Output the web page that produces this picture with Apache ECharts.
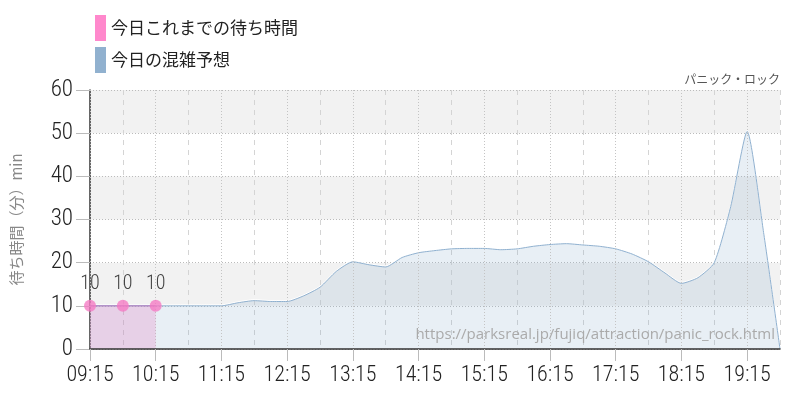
<!DOCTYPE html>
<html lang="ja">
<head>
    <meta charset="UTF-8">
    <title>パニック・ロック 待ち時間</title>
    <style>
        body { margin: 0; background: #fff; }
        #chart { width: 800px; height: 400px; }
    </style>
    <script src="https://cdn.jsdelivr.net/npm/echarts@6/dist/echarts.min.js"></script>
</head>
<body>
    <div id="chart"></div>
    <script>
        // 15分刻みの時刻
        const times = [
            '09:15', '09:30', '09:45', '10:00', '10:15', '10:30', '10:45', '11:00',
            '11:15', '11:30', '11:45', '12:00', '12:15', '12:30', '12:45', '13:00',
            '13:15', '13:30', '13:45', '14:00', '14:15', '14:30', '14:45', '15:00',
            '15:15', '15:30', '15:45', '16:00', '16:15', '16:30', '16:45', '17:00',
            '17:15', '17:30', '17:45', '18:00', '18:15', '18:30', '18:45', '19:00',
            '19:15', '19:30', '19:45'
        ];
        // 今日これまでの待ち時間（30分ごとの実績）
        const actual = [10, null, 10, null, 10];
        // 今日の混雑予想
        const forecast = [
            10, 10, 10, 10, 10, 10, 10, 10,
            10, 10.7, 11.2, 11, 11, 12.3, 14.3, 18,
            20.2, 19.5, 19, 21.2, 22.3, 22.8, 23.2, 23.3,
            23.3, 23, 23.2, 23.8, 24.2, 24.4, 24.1, 23.8,
            23.2, 22, 20.2, 17.6, 15.2, 16.5, 20, 33,
            50.4, 27, 0
        ];
        const yTicks = [0, 10, 20, 30, 40, 50, 60];

        const numFont = "'Roboto Condensed', 'Liberation Sans Narrow', Roboto, sans-serif";
        const jpFont = "'Noto Sans CJK JP', sans-serif";

        const chart = echarts.init(document.getElementById('chart'));

        const option = {
            animation: false,
            title: {
                text: 'パニック・ロック',
                right: 15,
                top: 68,
                textStyle: { fontSize: 12, fontWeight: 'normal', color: '#555', fontFamily: jpFont }
            },
            legend: {
                orient: 'vertical',
                left: 90,
                top: 10,
                itemWidth: 11,
                itemHeight: 26,
                itemGap: 6,
                icon: 'rect',
                textStyle: { fontSize: 17, color: '#222', fontFamily: jpFont },
                data: [
                    { name: '今日これまでの待ち時間', itemStyle: { color: '#ff88cc' } },
                    { name: '今日の混雑予想', itemStyle: { color: '#91b1cf' } }
                ]
            },
            grid: { left: 90, right: 20, top: 90, bottom: 51, containLabel: false },
            xAxis: [
                {
                    type: 'category',
                    data: times,
                    boundaryGap: false,
                    axisLine: { lineStyle: { color: '#333', width: 1.5 } },
                    axisTick: { show: true, interval: 3, length: 12, lineStyle: { color: '#bbb' } },
                    axisLabel: {
                        interval: 3, fontSize: 22, fontWeight: 300, color: '#222',
                        margin: 15, fontFamily: numFont
                    },
                    splitLine: { show: true, interval: 3, lineStyle: { color: '#c4c4c4', type: [1, 2] } },
                    z: 3
                },
                {
                    // 30分位置の破線だけを引く補助軸
                    type: 'category',
                    data: times,
                    boundaryGap: false,
                    position: 'bottom',
                    axisLine: { show: false },
                    axisTick: { show: false },
                    axisLabel: { show: false },
                    splitLine: {
                        show: true,
                        interval: (idx) => idx % 4 === 2,
                        lineStyle: { color: '#d4d4d4', type: [5, 5] }
                    }
                }
            ],
            yAxis: {
                type: 'value',
                min: yTicks[0],
                max: yTicks[yTicks.length - 1],
                interval: 10,
                name: '待ち時間（分）min',
                nameLocation: 'middle',
                nameGap: 66,
                nameRotate: 90,
                nameTextStyle: { fontSize: 15, color: '#888', fontFamily: jpFont },
                axisLine: { show: true, lineStyle: { color: '#333', width: 1.5 } },
                axisTick: { show: true, length: 14, lineStyle: { color: '#bbb' } },
                axisLabel: { fontSize: 23, fontWeight: 300, color: '#222', margin: 17, fontFamily: numFont },
                splitLine: { show: true, lineStyle: { color: '#bbb', type: [1, 2] } },
                splitArea: { show: true, areaStyle: { color: ['#ffffff', '#f2f2f2'] } }
            },
            graphic: [{
                type: 'text',
                right: 25,
                top: 327,
                style: {
                    text: 'https://parksreal.jp/fujiq/attraction/panic_rock.html',
                    fontSize: 15,
                    fill: '#aaa',
                    fontFamily: "'Open Sans', 'Noto Sans', sans-serif"
                },
                z: 100
            }],
            series: [
                {
                    name: '今日の混雑予想',
                    type: 'line',
                    data: forecast,
                    smooth: 0.2,
                    showSymbol: false,
                    itemStyle: { color: '#91b1cf' },
                    lineStyle: {
                        color: '#8fb0cf', width: 1,
                        shadowColor: '#ffffff', shadowOffsetY: -1, shadowBlur: 0
                    },
                    areaStyle: { color: 'rgba(143,176,207,0.29)' },
                    z: 2
                },
                {
                    name: '今日これまでの待ち時間',
                    type: 'line',
                    data: actual,
                    connectNulls: true,
                    showAllSymbol: true,
                    symbol: 'circle',
                    symbolSize: 12,
                    itemStyle: { color: 'rgba(245,120,195,0.78)' },
                    lineStyle: { color: '#b07cc0', width: 1 },
                    areaStyle: { color: 'rgba(230,130,193,0.4)' },
                    label: {
                        show: true,
                        position: 'top',
                        distance: 6,
                        fontSize: 20,
                        fontWeight: 300,
                        color: '#444',
                        fontFamily: numFont
                    },
                    z: 3
                }
            ]
        };

        chart.setOption(option);
    </script>
</body>
</html>
